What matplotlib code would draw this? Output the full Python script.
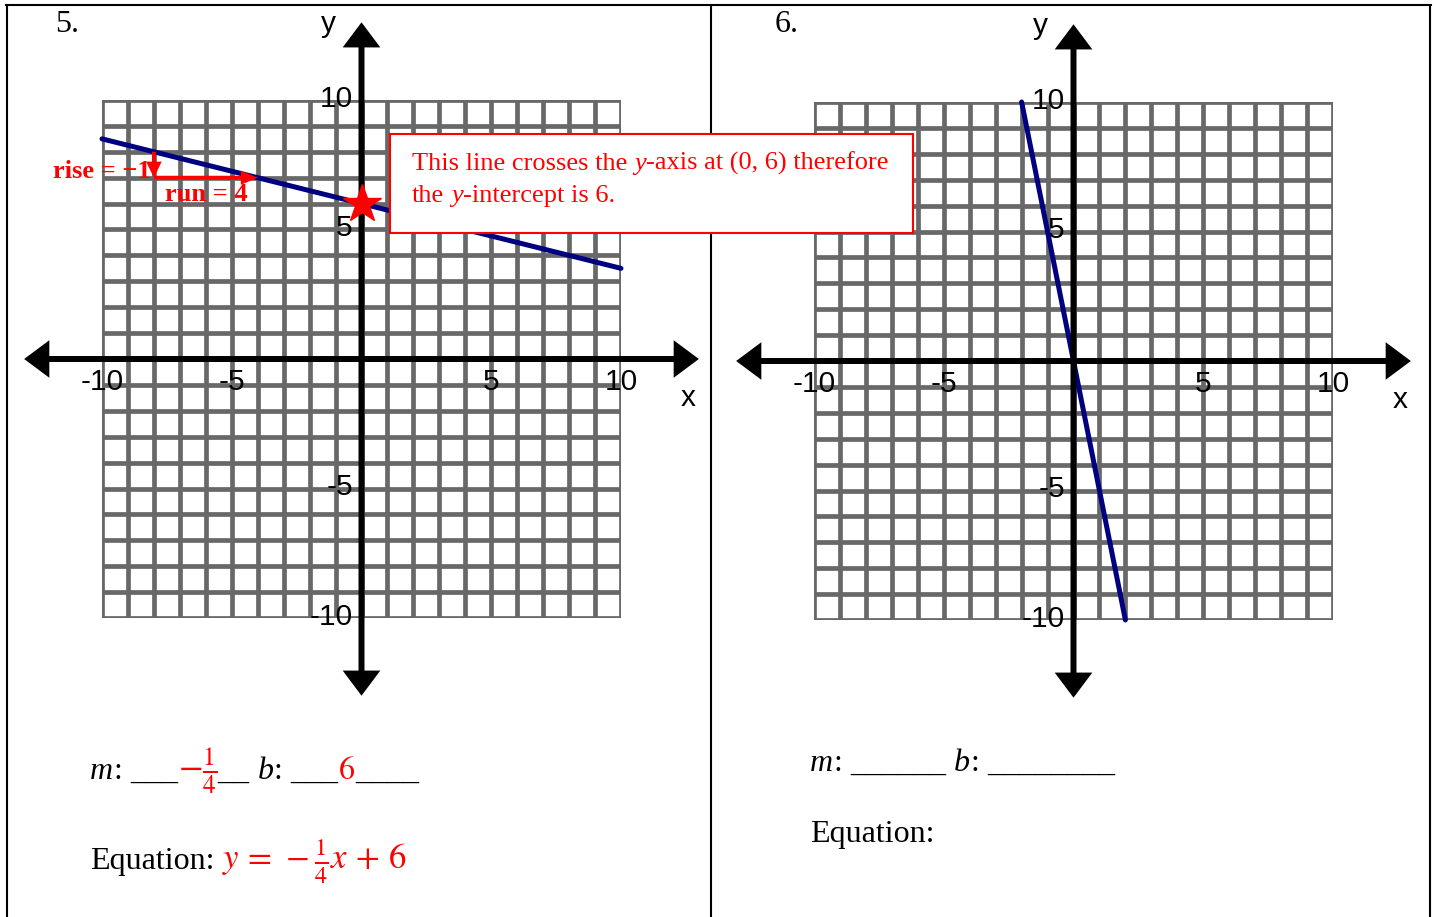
import numpy as np
import matplotlib
matplotlib.use('Agg')
import matplotlib.pyplot as plt
from matplotlib.patches import FancyArrow, Rectangle
from matplotlib.lines import Line2D

plt.rcParams['mathtext.fontset'] = 'stix'

W, H = 1434, 917

# data
grid_vals = np.arange(-10, 11)
tick_vals = [-10, -5, 5, 10]
tick_text = ['-10', '-5', '5', '10']
line5_x = [-10, 10]
line5_y = [8.5, 3.5]
line6_x = [-2, 2]
line6_y = [10, -10]
intercept5 = (0, 6)
rise_pt = (-8, 8)
rise = -1
run = 4

SERIF = 'Liberation Serif'
SANS = 'Liberation Sans'
GRID_C = '#686868'
NAVY = '#000080'

fig = plt.figure(figsize=(W / 100, H / 100), dpi=100)


def px(x, y):
    return x / W, 1 - y / H


def make_panel(x0, y1):
    # axes box = grid area, x0..x0+519 px, y1-518..y1 px
    ax = fig.add_axes([x0 / W, 1 - y1 / H, 519 / W, 518 / H])
    ax.set_xlim(-10, 10)
    ax.set_ylim(-10, 10)
    ax.axis('off')
    ax.hlines(grid_vals, -10, 10, color=GRID_C, lw=3.4, capstyle='projecting', zorder=1)
    ax.vlines(grid_vals, -10, 10, color=GRID_C, lw=3.4, capstyle='projecting', zorder=1)
    for dx, dy in [(13, 0), (-13, 0), (0, 13), (0, -13)]:
        ax.add_patch(FancyArrow(0, 0, dx, dy, width=0.23, head_width=1.45, head_length=0.97,
                                length_includes_head=True, color='black', lw=0,
                                clip_on=False, zorder=4))
    for v, s in zip(tick_vals, tick_text):
        ax.text(v, -0.9, s, ha='center', va='center', fontsize=21.5, family=SANS,
                zorder=2, clip_on=False)
        ax.text(-0.33, v + 0.05, s, ha='right', va='center', fontsize=21.5, family=SANS,
                zorder=2, clip_on=False)
    ax.text(12.6, -1.5, 'x', ha='center', va='center', fontsize=21.5, family=SANS, clip_on=False)
    ax.text(-1.27, 12.93, 'y', ha='center', va='center', fontsize=21.5, family=SANS, clip_on=False)
    return ax


ax1 = make_panel(102, 618)
ax2 = make_panel(814, 620)

# problem 5
ax1.plot(line5_x, line5_y, color=NAVY, lw=3.6, solid_capstyle='round', zorder=3, clip_on=False)
ax1.plot(*intercept5, marker='*', ms=29, color='red', mec='red', zorder=6, clip_on=False)
ax1.add_patch(FancyArrow(rise_pt[0], rise_pt[1], 0, rise, width=0.15, head_width=0.6,
                         head_length=0.62, length_includes_head=True, color='red', lw=0,
                         zorder=5, clip_on=False))
ax1.add_patch(FancyArrow(rise_pt[0], rise_pt[1] + rise, run, 0, width=0.15, head_width=0.55,
                         head_length=0.65, length_includes_head=True, color='red', lw=0,
                         zorder=5, clip_on=False))
fig.text(*px(53, 178), 'rise = \u22121', color='red', fontsize=19, weight='bold',
         family=SERIF, va='baseline', zorder=7)
fig.text(*px(165, 201), 'run = 4', color='red', fontsize=19, weight='bold',
         family=SERIF, va='baseline', zorder=7)

# problem 6
ax2.plot(line6_x, line6_y, color=NAVY, lw=3.6, solid_capstyle='round', zorder=3, clip_on=False)

# frame
for xs, ys in [([6, 1431], [5, 5]), ([7, 7], [5, 917]), ([711, 711], [5, 917]),
               ([1430, 1430], [5, 917])]:
    fig.add_artist(Line2D([x / W for x in xs], [1 - y / H for y in ys], color='black',
                          lw=1.5, zorder=8))

fig.text(*px(55, 25), '5.', fontsize=23, family=SERIF, va='center')
fig.text(*px(775, 25), '6.', fontsize=23, family=SERIF, va='center')

renderer = fig.canvas.get_renderer()


def space_w(size):
    a = fig.text(0, 0, 'x x', fontsize=size, family=SERIF)
    b = fig.text(0, 0, 'xx', fontsize=size, family=SERIF)
    w = a.get_window_extent(renderer).width - b.get_window_extent(renderer).width
    a.remove()
    b.remove()
    return w


def write_run(x0, y0, pieces, size, zorder=3):
    sp = space_w(size)
    x = x0
    for s, gap, kw in pieces:
        x += gap * sp
        kw = dict(kw)
        fs = kw.pop('fs', size)
        t = fig.text(*px(x, y0), s, fontsize=fs, family=SERIF, va='baseline', ha='left',
                     zorder=zorder, **kw)
        x += t.get_window_extent(renderer).width


N = {}
I = {'style': 'italic'}
R = {'color': 'red'}
RI = {'color': 'red', 'style': 'italic'}
RM = {'color': 'red', 'fs': 26}
RE = {'color': 'red', 'fs': 25}

# red note box
fig.add_artist(Rectangle(px(390, 233), 523 / W, 99 / H, transform=fig.transFigure,
                         fc='white', ec='red', lw=1.5, zorder=10))
write_run(412, 170, [('This line crosses the', 0, R), ('y', 1, RI),
                     ('-axis at (0, 6) therefore', 0, R)], 19, zorder=11)
write_run(412, 202, [('the', 0, R), ('y', 1, RI), ('-intercept is 6.', 0, R)], 19, zorder=11)

# answers
write_run(90, 779, [('m', 0, I), (':', 0, N), ('___', 1, N), (r'$-\frac{1}{4}$', 0, RM),
                    ('__', 0, N), ('b', 1, I), (':', 0, N), ('___', 1, N), ('$6$', 0, R),
                    ('____', 0, N)], 23)
write_run(90, 869, [('Equation:', 0, N),
                    (r'$y\,=\,-\frac{1}{4}x\,+\,6$', 1, RE)], 23)
write_run(810, 771, [('m', 0, I), (':', 0, N), ('______', 1, N), ('b', 1, I), (':', 0, N),
                     ('________', 1, N)], 23)
write_run(810, 842, [('Equation:', 0, N)], 23)

fig.savefig('out.png', dpi=100)
